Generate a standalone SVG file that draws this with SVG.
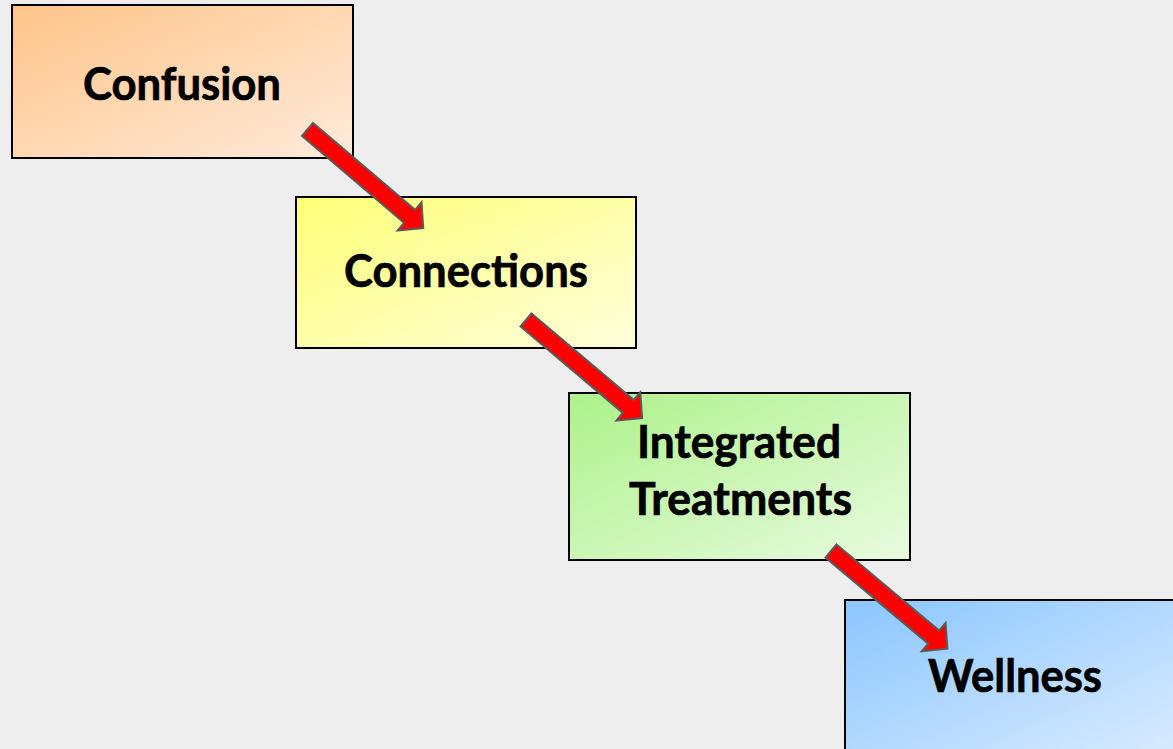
<svg xmlns="http://www.w3.org/2000/svg" width="1173" height="749" viewBox="0 0 1173 749">
  <defs>
    <linearGradient id="gOrange" x1="0" y1="0" x2="1" y2="1">
      <stop offset="0" stop-color="#FFC489"/>
      <stop offset="1" stop-color="#FFEBDB"/>
    </linearGradient>
    <linearGradient id="gYellow" x1="0" y1="0" x2="1" y2="1">
      <stop offset="0" stop-color="#FFFF78"/>
      <stop offset="1" stop-color="#FFFFDC"/>
    </linearGradient>
    <linearGradient id="gGreen" x1="0" y1="0" x2="1" y2="1">
      <stop offset="0" stop-color="#ADF28A"/>
      <stop offset="1" stop-color="#E8FBDF"/>
    </linearGradient>
    <linearGradient id="gBlue" x1="0" y1="0" x2="1" y2="1">
      <stop offset="0" stop-color="#8AC6FF"/>
      <stop offset="1" stop-color="#DCECFF"/>
    </linearGradient>
    <path id="arrowShape" d="M0,-8.5 L134,-8.5 L134,-18.5 L152,0 L134,18.5 L134,8.5 L0,8.5 Z"/>
  </defs>
  <style>
    .box { stroke: #000; stroke-width: 2; }
    .lbl { font-family: Lato, "Open Sans", "Liberation Sans", sans-serif; font-weight: bold; font-size: 45px; fill: #000; stroke: #000; stroke-width: 0.7; text-anchor: middle; }
    .arrow { fill: #FF0000; stroke: #5A5A5A; stroke-width: 2; stroke-linejoin: miter; }
  </style>
  <rect x="0" y="0" width="1173" height="749" fill="#EEEEEE"/>

  <g id="node-confusion">
    <rect class="box" x="12" y="5" width="341" height="153" fill="url(#gOrange)"/>
    <text class="lbl" x="182" y="100" textLength="198" lengthAdjust="spacingAndGlyphs">Confusion</text>
  </g>
  <g id="node-connections">
    <rect class="box" x="296" y="197" width="340" height="151" fill="url(#gYellow)"/>
    <text class="lbl" x="466" y="287" textLength="244" lengthAdjust="spacingAndGlyphs">Connections</text>
  </g>
  <g id="node-integrated">
    <rect class="box" x="569" y="393" width="341" height="167" fill="url(#gGreen)"/>
    <text class="lbl" x="739" y="458" textLength="204" lengthAdjust="spacingAndGlyphs">Integrated</text>
    <text class="lbl" x="740.5" y="515" textLength="223" lengthAdjust="spacingAndGlyphs">Treatments</text>
  </g>
  <g id="node-wellness">
    <rect class="box" x="845" y="600" width="340" height="160" fill="url(#gBlue)"/>
    <text class="lbl" x="1015" y="692" textLength="174" lengthAdjust="spacingAndGlyphs">Wellness</text>
  </g>

  <g id="connectors">
    <use href="#arrowShape" class="arrow" transform="translate(307.5,129.5) rotate(40.4)"/>
    <use href="#arrowShape" class="arrow" transform="translate(526,320) rotate(40.2)"/>
    <use href="#arrowShape" class="arrow" transform="translate(831,551) rotate(40.0)"/>
  </g>
</svg>
